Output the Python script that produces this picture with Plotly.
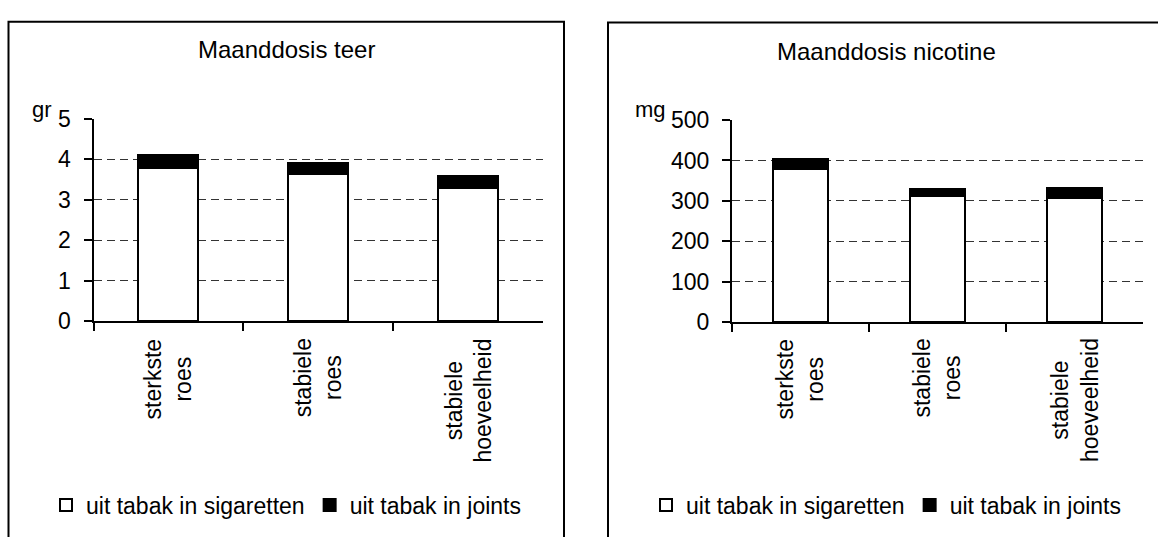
import plotly.graph_objects as go

categories = ["sterkste<br>roes", "stabiele<br>roes", "stabiele<br>hoeveelheid"]
series_names = ["uit tabak in sigaretten", "uit tabak in joints"]
teer_sigaretten = [3.78, 3.64, 3.29]
teer_joints = [0.33, 0.26, 0.30]
nic_sigaretten = [380, 311, 308]
nic_joints = [24, 18, 23]
titles = ["Maanddosis teer", "Maanddosis nicotine"]
units = ["gr", "mg"]

W, H = 1158, 537
FONT = "Arial, Liberation Sans, sans-serif"


def px(x):
    return x / W


def py(y):
    return 1 - y / H


fig = go.Figure()

panels = [
    dict(xa="x", ya="y", legend="legend", sig=teer_sigaretten, jnt=teer_joints),
    dict(xa="x2", ya="y2", legend="legend2", sig=nic_sigaretten, jnt=nic_joints),
]
for p in panels:
    fig.add_trace(go.Bar(x=categories, y=p["sig"], name=series_names[0],
                         marker=dict(color="white", line=dict(color="black", width=2)),
                         width=0.4, xaxis=p["xa"], yaxis=p["ya"], legend=p["legend"]))
    fig.add_trace(go.Bar(x=categories, y=p["jnt"], name=series_names[1],
                         marker=dict(color="black", line=dict(color="black", width=2)),
                         width=0.4, xaxis=p["xa"], yaxis=p["ya"], legend=p["legend"]))

common_x = dict(type="category", tickson="boundaries", ticks="outside", ticklen=8,
                tickcolor="black", tickwidth=2, showline=True, linecolor="black",
                linewidth=2, showticklabels=False, showgrid=False, zeroline=False)
common_y = dict(ticks="outside", ticklen=8, tickcolor="black", tickwidth=2,
                showline=True, linecolor="black", linewidth=2, showgrid=True,
                gridcolor="#333333", griddash="8px,5px", gridwidth=1, zeroline=False,
                ticklabelstandoff=8,
                tickfont=dict(family=FONT, size=23, color="black"))

fig.update_layout(
    width=W, height=H, margin=dict(l=0, r=0, t=0, b=0),
    paper_bgcolor="white", plot_bgcolor="white",
    barmode="stack", font=dict(family=FONT, color="black", size=23),
    xaxis=dict(domain=[px(93.5), px(543)], anchor="y", **common_x),
    yaxis=dict(domain=[py(324), py(111)], anchor="x", range=[0, 5], dtick=1, **common_y),
    xaxis2=dict(domain=[px(732), px(1143)], anchor="y2", **common_x),
    yaxis2=dict(domain=[py(325), py(112.5)], anchor="x2", range=[0, 500], dtick=100, **common_y),
    legend=dict(orientation="h", x=px(286), xanchor="center", y=py(517), yanchor="middle",
                font=dict(family=FONT, size=23), bgcolor="rgba(0,0,0,0)", traceorder="normal",
                itemwidth=30),
    legend2=dict(orientation="h", x=px(886), xanchor="center", y=py(517), yanchor="middle",
                 font=dict(family=FONT, size=23), bgcolor="rgba(0,0,0,0)", traceorder="normal",
                 itemwidth=30),
    showlegend=True,
)

# panel frames
fig.add_shape(type="rect", xref="paper", yref="paper", x0=px(8.5), x1=px(564), y0=py(560), y1=py(9.3),
              line=dict(color="black", width=2), layer="below")
fig.add_shape(type="rect", xref="paper", yref="paper", x0=px(608), x1=px(1180), y0=py(560), y1=py(10),
              line=dict(color="black", width=2), layer="below")

# titles and unit labels
fig.add_annotation(text=titles[0], xref="paper", yref="paper", x=px(286), y=py(38),
                   xanchor="center", yanchor="middle", showarrow=False, font=dict(size=24))
fig.add_annotation(text=titles[1], xref="paper", yref="paper", x=px(886), y=py(40),
                   xanchor="center", yanchor="middle", showarrow=False, font=dict(size=24))
fig.add_annotation(text=units[0], xref="paper", yref="paper", x=px(41.5), y=py(101),
                   xanchor="center", yanchor="middle", showarrow=False, font=dict(size=22))
fig.add_annotation(text=units[1], xref="paper", yref="paper", x=px(650), y=py(101),
                   xanchor="center", yanchor="middle", showarrow=False, font=dict(size=22))

# category labels (rotated, centred lines)
for xa in ("x", "x2"):
    for c in categories:
        fig.add_annotation(text=c, xref=xa, yref="paper", x=c, y=py(340), yanchor="top",
                           xanchor="center", textangle=-90, showarrow=False, align="center",
                           font=dict(size=23))

fig.write_html("out.html", config={"displayModeBar": False},
               post_script="document.body.style.margin='0';document.body.style.overflow='hidden';")
